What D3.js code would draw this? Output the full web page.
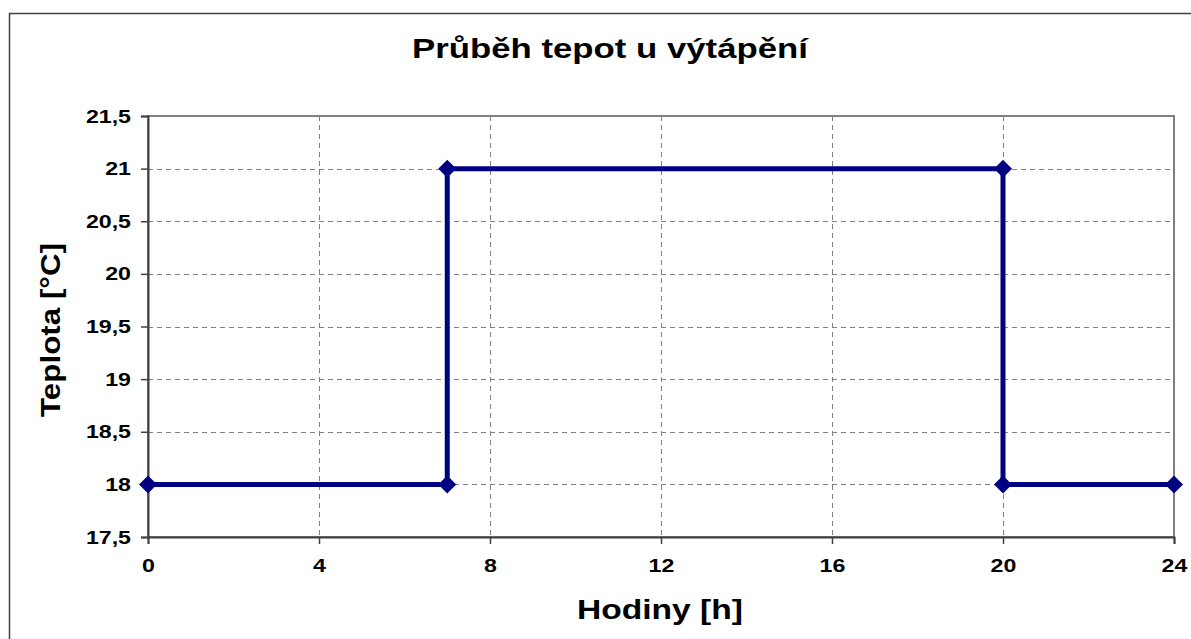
<!DOCTYPE html>
<html>
<head>
<meta charset="utf-8">
<title>Průběh tepot u výtápění</title>
<script src="https://cdn.jsdelivr.net/npm/d3@7"></script>
<style>
  body { margin: 0; background: #fff; }
  text { font-family: Arial, "Liberation Sans", sans-serif; font-weight: bold; fill: #000; }
</style>
</head>
<body>
<svg id="chart" width="1191" height="639"></svg>
<script>
// data
var hours = [0, 7, 7, 20, 20, 24];
var temps = [18, 18, 21, 21, 18, 18];
var xTicks = [0, 4, 8, 12, 16, 20, 24];
var yTicks = [17.5, 18, 18.5, 19, 19.5, 20, 20.5, 21, 21.5];

var svg = d3.select("#chart");
var plotL = 148, plotR = 1174, plotT = 116, plotB = 537;

var x = d3.scaleLinear().domain([0, 24]).range([plotL, plotR]);
var y = d3.scaleLinear().domain([17.5, 21.5]).range([plotB, plotT]);
var fmt = function(d) { return String(d).replace(".", ","); };

// the original font is a wide helvetica, so stretch text horizontally
function stretch(sel, k) {
  sel.each(function() {
    var w = this.getComputedTextLength();
    d3.select(this).attr("textLength", w * k).attr("lengthAdjust", "spacingAndGlyphs");
  });
}

// outer frame
svg.append("rect")
  .attr("x", 9.5).attr("y", 13.5).attr("width", 1200).attr("height", 700)
  .attr("fill", "none").attr("stroke", "#404040").attr("stroke-width", 1.5);

// plot area border
svg.append("rect")
  .attr("x", plotL).attr("y", plotT).attr("width", plotR - plotL).attr("height", plotB - plotT)
  .attr("fill", "none").attr("stroke", "#808080").attr("stroke-width", 2);

// grid
svg.append("g").selectAll("line")
  .data(yTicks.filter(function(d) { return d > 17.5 && d < 21.5; }))
  .enter().append("line")
  .attr("x1", plotL).attr("x2", plotR)
  .attr("y1", function(d) { return Math.round(y(d)) + 0.5; })
  .attr("y2", function(d) { return Math.round(y(d)) + 0.5; })
  .attr("stroke", "#808080").attr("stroke-dasharray", "5,4");
svg.append("g").selectAll("line")
  .data(xTicks.filter(function(d) { return d > 0 && d < 24; }))
  .enter().append("line")
  .attr("y1", plotT).attr("y2", plotB)
  .attr("x1", function(d) { return Math.round(x(d)) + 0.5; })
  .attr("x2", function(d) { return Math.round(x(d)) + 0.5; })
  .attr("stroke", "#808080").attr("stroke-dasharray", "5,4");

// axes
var yAxis = svg.append("g")
  .attr("transform", "translate(" + plotL + ",0)")
  .call(d3.axisLeft(y).tickValues(yTicks).tickFormat(fmt).tickSize(7).tickPadding(10));
var xAxis = svg.append("g")
  .attr("transform", "translate(0," + plotB + ")")
  .call(d3.axisBottom(x).tickValues(xTicks).tickSize(7).tickPadding(15));
[yAxis, xAxis].forEach(function(a) {
  a.attr("font-size", 19).attr("font-family", "Arial, 'Liberation Sans', sans-serif");
  a.select(".domain").attr("stroke", "#404040").attr("stroke-width", 2);
  a.selectAll(".tick line").attr("stroke", "#404040").attr("stroke-width", 1.5);
  a.selectAll("text").attr("font-weight", "bold").attr("fill", "#000");
  stretch(a.selectAll("text"), 1.22);
});

// series
var pts = hours.map(function(h, i) { return [h, temps[i]]; });
svg.append("path")
  .datum(pts)
  .attr("fill", "none").attr("stroke", "#000080").attr("stroke-width", 5)
  .attr("d", d3.line().x(function(d) { return x(d[0]); }).y(function(d) { return y(d[1]); }));
svg.append("g").selectAll("path")
  .data(pts).enter().append("path")
  .attr("transform", function(d) { return "translate(" + x(d[0]) + "," + y(d[1]) + ")"; })
  .attr("d", "M0,-9L9,0L0,9L-9,0Z")
  .attr("fill", "#000080");

// titles
svg.append("text").attr("x", 610).attr("y", 58).attr("text-anchor", "middle")
  .attr("font-size", 28).attr("textLength", 396).attr("lengthAdjust", "spacingAndGlyphs")
  .text("Průběh tepot u výtápění");
svg.append("text").attr("x", 660).attr("y", 619).attr("text-anchor", "middle")
  .attr("font-size", 28).attr("textLength", 166).attr("lengthAdjust", "spacingAndGlyphs")
  .text("Hodiny [h]");
svg.append("text").attr("transform", "translate(60,330) rotate(-90)").attr("text-anchor", "middle")
  .attr("font-size", 28).attr("textLength", 174).attr("lengthAdjust", "spacingAndGlyphs")
  .text("Teplota [°C]");
</script>
</body>
</html>
